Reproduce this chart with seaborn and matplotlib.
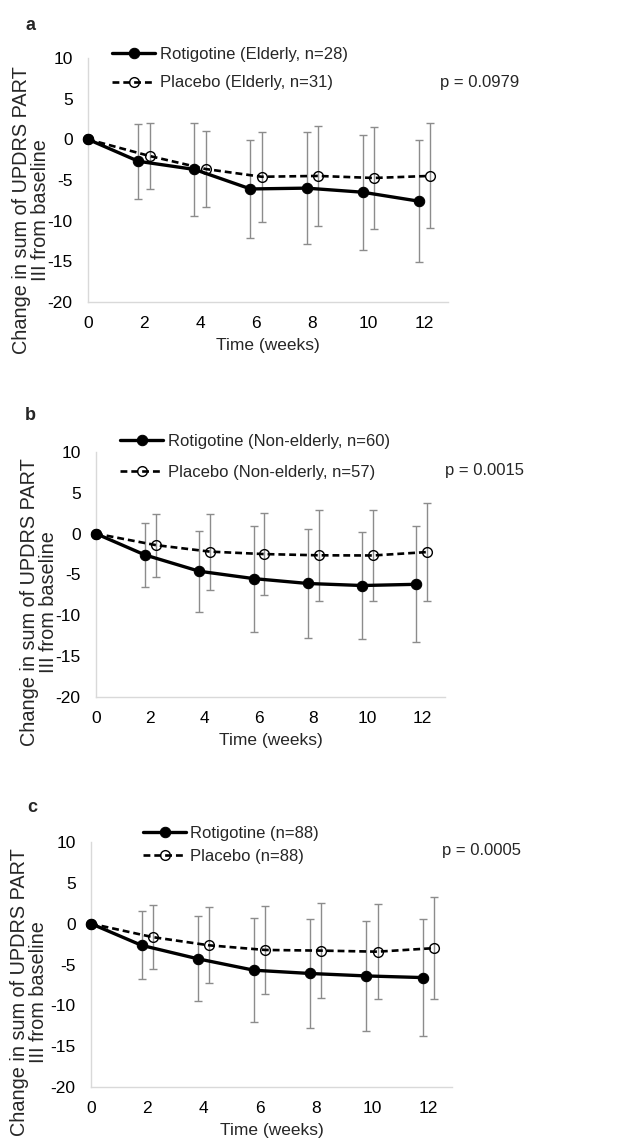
import matplotlib
matplotlib.use("Agg")
import matplotlib.pyplot as plt
import seaborn as sns
import numpy as np

# ---- data ----
weeks = [0, 2, 4, 6, 8, 10, 12]

rot_a_mean = [0, -2.7, -3.7, -6.1, -6.0, -6.5, -7.6]
rot_a_sd = [0, 4.6, 5.75, 6.0, 6.9, 7.05, 7.5]
pla_a_mean = [0, -2.05, -3.65, -4.6, -4.5, -4.75, -4.5]
pla_a_sd = [0, 4.05, 4.65, 5.55, 6.15, 6.25, 6.45]

rot_b_mean = [0, -2.6, -4.6, -5.5, -6.1, -6.35, -6.2]
rot_b_sd = [0, 3.95, 4.95, 6.5, 6.65, 6.6, 7.1]
pla_b_mean = [0, -1.4, -2.2, -2.5, -2.65, -2.67, -2.25]
pla_b_sd = [0, 3.85, 4.65, 5.05, 5.55, 5.57, 6.0]

rot_c_mean = [0, -2.65, -4.3, -5.7, -6.1, -6.4, -6.6]
rot_c_sd = [0, 4.15, 5.2, 6.35, 6.65, 6.7, 7.2]
pla_c_mean = [0, -1.65, -2.65, -3.22, -3.3, -3.43, -3.0]
pla_c_sd = [0, 3.9, 4.67, 5.35, 5.83, 5.83, 6.25]

panel_letters = ["a", "b", "c"]
rot_labels = ["Rotigotine (Elderly, n=28)", "Rotigotine (Non-elderly, n=60)", "Rotigotine (n=88)"]
pla_labels = ["Placebo (Elderly, n=31)", "Placebo (Non-elderly, n=57)", "Placebo (n=88)"]
p_values = ["p = 0.0979", "p = 0.0015", "p = 0.0005"]
y_ticks = [-20, -15, -10, -5, 0, 5, 10]

sns.set_theme(style="white")
plt.rcParams["font.family"] = ["Liberation Sans", "DejaVu Sans"]
plt.rcParams["axes.unicode_minus"] = False

W, H = 630, 1148
fig = plt.figure(figsize=(W / 100, H / 100), dpi=100)


def px_rect(left, top, right, bottom):
    return [left / W, 1 - bottom / H, (right - left) / W, (bottom - top) / H]


# layout in pixels: axes box, legend anchor, p text, letter, ylabel centre, legend row spacing
layout = [
    dict(ax=(88, 58, 448, 302), leg=(112, 47), lsp=0.81, p=(440, 82), letter=(26, 25), ylab=(31, 210)),
    dict(ax=(96, 452, 445, 697), leg=(120, 434), lsp=0.93, p=(445, 471), letter=(25, 415), ylab=(39, 602)),
    dict(ax=(91, 842, 452, 1087), leg=(143, 826), lsp=0.45, p=(442, 850), letter=(27, 807), ylab=(29, 992)),
]

series = [
    (rot_a_mean, rot_a_sd, pla_a_mean, pla_a_sd),
    (rot_b_mean, rot_b_sd, pla_b_mean, pla_b_sd),
    (rot_c_mean, rot_c_sd, pla_c_mean, pla_c_sd),
]

wk = np.array(weeks, float)
x_rot = np.where(wk > 0, wk - 0.2, wk)
x_pla = np.where(wk > 0, wk + 0.2, wk)

for i, (rm, rs, pm, ps) in enumerate(series):
    lay = layout[i]
    ax = fig.add_axes(px_rect(*lay["ax"]))

    # error bars (skip baseline)
    ax.errorbar(x_rot[1:], rm[1:], yerr=rs[1:], fmt="none", ecolor="#8c8c8c",
                elinewidth=1.0, capsize=2.6, capthick=1.0, zorder=2)
    ax.errorbar(x_pla[1:], pm[1:], yerr=ps[1:], fmt="none", ecolor="#8c8c8c",
                elinewidth=1.0, capsize=2.6, capthick=1.0, zorder=2)

    sns.lineplot(x=x_pla, y=pm, ax=ax, sort=False, color="black", linewidth=1.9,
                 linestyle=(0, (2.6, 1.5)), marker="o", markersize=7,
                 markerfacecolor="none", markeredgecolor="black", markeredgewidth=1.0,
                 label=pla_labels[i], zorder=3, clip_on=False)
    sns.lineplot(x=x_rot, y=rm, ax=ax, sort=False, color="black", linewidth=2.4,
                 marker="o", markersize=7.5, markerfacecolor="black",
                 markeredgecolor="black", label=rot_labels[i], zorder=4, clip_on=False)

    ax.set_xlim(0, 12.85)
    ax.set_ylim(-20, 10)
    ax.set_xticks(weeks)
    ax.set_yticks(y_ticks)
    ax.tick_params(axis="both", length=0, labelsize=12.5, colors="black")
    ax.tick_params(axis="x", pad=10)
    ax.tick_params(axis="y", pad=11)
    for side in ["top", "right"]:
        ax.spines[side].set_visible(False)
    for side in ["left", "bottom"]:
        ax.spines[side].set_color("#d9d9d9")
        ax.spines[side].set_linewidth(1.0)
    ax.set_xlabel("Time (weeks)", fontsize=12.5, labelpad=5)
    ax.set_ylabel("")

    handles, labels = ax.get_legend_handles_labels()
    order = [labels.index(rot_labels[i]), labels.index(pla_labels[i])]
    ax.legend([handles[j] for j in order], [labels[j] for j in order],
              loc="upper left", bbox_to_anchor=(lay["leg"][0] / W, 1 - lay["leg"][1] / H),
              bbox_transform=fig.transFigure, frameon=False, fontsize=12,
              handlelength=2.6, handletextpad=0.25, labelspacing=lay["lsp"],
              borderpad=0, borderaxespad=0)

    fig.text(lay["p"][0] / W, 1 - lay["p"][1] / H, p_values[i], fontsize=12,
             ha="left", va="center")
    fig.text(lay["letter"][0] / W, 1 - lay["letter"][1] / H, panel_letters[i],
             fontsize=13, fontweight="bold", ha="left", va="center")
    fig.text(lay["ylab"][0] / W, 1 - lay["ylab"][1] / H,
             "Change in sum of UPDRS PART\nIII from baseline", fontsize=14.3,
             rotation=90, ha="center", va="center", multialignment="center",
             linespacing=1.0)

fig.savefig("out.png", dpi=100)
